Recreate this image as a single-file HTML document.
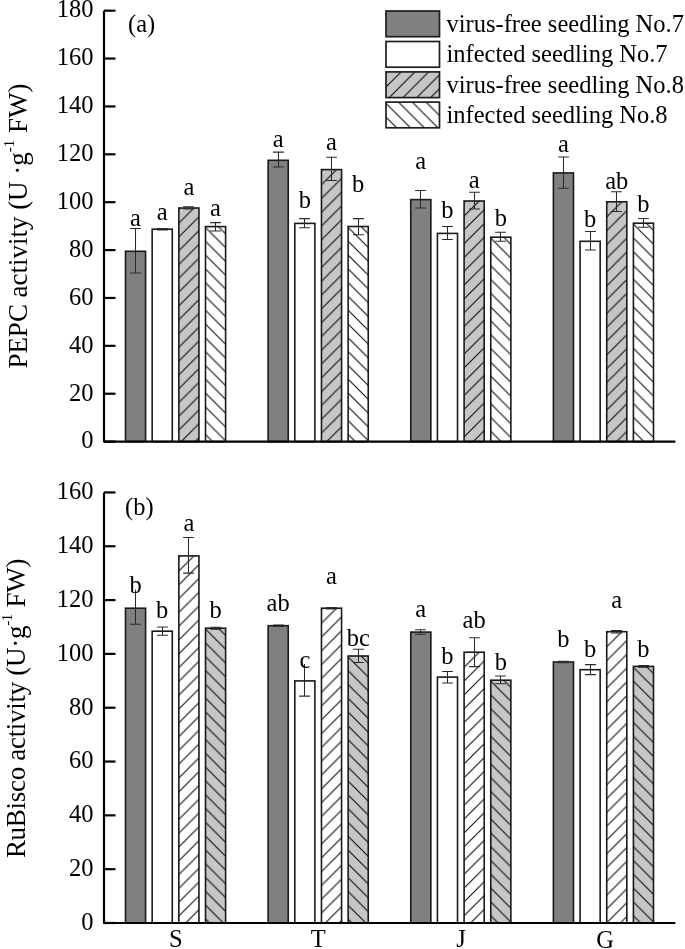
<!DOCTYPE html>
<html><head><meta charset="utf-8"><style>
html,body{margin:0;padding:0;background:#fff;width:685px;height:949px;overflow:hidden}
svg{display:block;will-change:transform}
text{font-family:"Liberation Serif",serif;fill:#000}
</style></head><body>
<svg width="685" height="949" viewBox="0 0 685 949">
<defs>
<pattern id="fw" patternUnits="userSpaceOnUse" width="13.7" height="13.7">
<path d="M-1,1 L1,-1 M0,13.7 L13.7,0 M12.7,14.7 L14.7,12.7" stroke="#1a1a1a" stroke-width="1.2"/>
</pattern>
<pattern id="bk" patternUnits="userSpaceOnUse" width="13.7" height="13.7">
<path d="M-1,12.7 L1,14.7 M0,0 L13.7,13.7 M12.7,-1 L14.7,1" stroke="#1a1a1a" stroke-width="1.2"/>
</pattern>
</defs>
<rect width="685" height="949" fill="#fff"/>

<rect x="125.50" y="251.30" width="20.1" height="190.30" fill="#808080"/>
<rect x="125.50" y="251.30" width="20.1" height="190.30" fill="none" stroke="#1a1a1a" stroke-width="1.6"/>
<path d="M135.50,228.50 V273.00 M130.10,273.00 H140.90 M130.10,228.50 H140.90" stroke="#2a2a2a" stroke-width="1.05" fill="none"/>
<text x="135.55" y="226.00" font-size="24.5" text-anchor="middle">a</text>
<rect x="152.17" y="229.20" width="20.1" height="212.40" fill="#fff"/>
<rect x="152.17" y="229.20" width="20.1" height="212.40" fill="none" stroke="#1a1a1a" stroke-width="1.6"/>
<path d="M162.50,228.40 V230.00 M157.10,230.00 H167.90 M157.10,228.40 H167.90" stroke="#2a2a2a" stroke-width="1.05" fill="none"/>
<text x="162.22" y="219.80" font-size="24.5" text-anchor="middle">a</text>
<rect x="178.84" y="208.00" width="20.1" height="233.60" fill="#c6c6c6"/>
<pattern id="fwA02" patternUnits="userSpaceOnUse" x="178.84" y="209.30" width="13.8" height="13.8"><path d="M-1,1 L1,-1 M0,13.8 L13.8,0 M12.8,14.8 L14.8,12.8" stroke="#000" stroke-width="1.0"/></pattern>
<rect x="178.84" y="208.00" width="20.1" height="233.60" fill="url(#fwA02)"/>
<rect x="178.84" y="208.00" width="20.1" height="233.60" fill="none" stroke="#1a1a1a" stroke-width="1.6"/>
<path d="M188.50,206.80 V208.90 M183.10,208.90 H193.90 M183.10,206.80 H193.90" stroke="#2a2a2a" stroke-width="1.05" fill="none"/>
<text x="188.89" y="195.20" font-size="24.5" text-anchor="middle">a</text>
<rect x="205.51" y="226.60" width="20.1" height="215.00" fill="#fff"/>
<pattern id="bkA03" patternUnits="userSpaceOnUse" x="205.51" y="227.50" width="13.8" height="13.8"><path d="M-1,12.8 L1,14.8 M0,0 L13.8,13.8 M12.8,-1 L14.8,1" stroke="#000" stroke-width="1.0"/></pattern>
<rect x="205.51" y="226.60" width="20.1" height="215.00" fill="url(#bkA03)"/>
<rect x="205.51" y="226.60" width="20.1" height="215.00" fill="none" stroke="#1a1a1a" stroke-width="1.6"/>
<path d="M215.50,222.60 V231.00 M210.10,231.00 H220.90 M210.10,222.60 H220.90" stroke="#2a2a2a" stroke-width="1.05" fill="none"/>
<text x="215.56" y="215.80" font-size="24.5" text-anchor="middle">a</text>
<rect x="268.13" y="160.30" width="20.1" height="281.30" fill="#808080"/>
<rect x="268.13" y="160.30" width="20.1" height="281.30" fill="none" stroke="#1a1a1a" stroke-width="1.6"/>
<path d="M278.50,152.10 V167.00 M273.10,167.00 H283.90 M273.10,152.10 H283.90" stroke="#2a2a2a" stroke-width="1.05" fill="none"/>
<text x="278.18" y="147.00" font-size="24.5" text-anchor="middle">a</text>
<rect x="294.80" y="223.40" width="20.1" height="218.20" fill="#fff"/>
<rect x="294.80" y="223.40" width="20.1" height="218.20" fill="none" stroke="#1a1a1a" stroke-width="1.6"/>
<path d="M304.50,218.60 V227.70 M299.10,227.70 H309.90 M299.10,218.60 H309.90" stroke="#2a2a2a" stroke-width="1.05" fill="none"/>
<text x="304.85" y="208.30" font-size="24.5" text-anchor="middle">b</text>
<rect x="321.47" y="169.60" width="20.1" height="272.00" fill="#c6c6c6"/>
<pattern id="fwA12" patternUnits="userSpaceOnUse" x="321.47" y="170.90" width="13.8" height="13.8"><path d="M-1,1 L1,-1 M0,13.8 L13.8,0 M12.8,14.8 L14.8,12.8" stroke="#000" stroke-width="1.0"/></pattern>
<rect x="321.47" y="169.60" width="20.1" height="272.00" fill="url(#fwA12)"/>
<rect x="321.47" y="169.60" width="20.1" height="272.00" fill="none" stroke="#1a1a1a" stroke-width="1.6"/>
<path d="M331.50,157.30 V180.40 M326.10,180.40 H336.90 M326.10,157.30 H336.90" stroke="#2a2a2a" stroke-width="1.05" fill="none"/>
<text x="331.52" y="149.60" font-size="24.5" text-anchor="middle">a</text>
<rect x="348.14" y="226.50" width="20.1" height="215.10" fill="#fff"/>
<pattern id="bkA13" patternUnits="userSpaceOnUse" x="348.14" y="227.40" width="13.8" height="13.8"><path d="M-1,12.8 L1,14.8 M0,0 L13.8,13.8 M12.8,-1 L14.8,1" stroke="#000" stroke-width="1.0"/></pattern>
<rect x="348.14" y="226.50" width="20.1" height="215.10" fill="url(#bkA13)"/>
<rect x="348.14" y="226.50" width="20.1" height="215.10" fill="none" stroke="#1a1a1a" stroke-width="1.6"/>
<path d="M358.50,218.60 V234.80 M353.10,234.80 H363.90 M353.10,218.60 H363.90" stroke="#2a2a2a" stroke-width="1.05" fill="none"/>
<text x="358.19" y="191.60" font-size="24.5" text-anchor="middle">b</text>
<rect x="410.76" y="199.60" width="20.1" height="242.00" fill="#808080"/>
<rect x="410.76" y="199.60" width="20.1" height="242.00" fill="none" stroke="#1a1a1a" stroke-width="1.6"/>
<path d="M420.50,190.50 V208.00 M415.10,208.00 H425.90 M415.10,190.50 H425.90" stroke="#2a2a2a" stroke-width="1.05" fill="none"/>
<text x="420.81" y="168.70" font-size="24.5" text-anchor="middle">a</text>
<rect x="437.43" y="233.40" width="20.1" height="208.20" fill="#fff"/>
<rect x="437.43" y="233.40" width="20.1" height="208.20" fill="none" stroke="#1a1a1a" stroke-width="1.6"/>
<path d="M447.50,226.40 V239.50 M442.10,239.50 H452.90 M442.10,226.40 H452.90" stroke="#2a2a2a" stroke-width="1.05" fill="none"/>
<text x="447.48" y="217.80" font-size="24.5" text-anchor="middle">b</text>
<rect x="464.10" y="201.00" width="20.1" height="240.60" fill="#c6c6c6"/>
<pattern id="fwA22" patternUnits="userSpaceOnUse" x="464.10" y="202.30" width="13.8" height="13.8"><path d="M-1,1 L1,-1 M0,13.8 L13.8,0 M12.8,14.8 L14.8,12.8" stroke="#000" stroke-width="1.0"/></pattern>
<rect x="464.10" y="201.00" width="20.1" height="240.60" fill="url(#fwA22)"/>
<rect x="464.10" y="201.00" width="20.1" height="240.60" fill="none" stroke="#1a1a1a" stroke-width="1.6"/>
<path d="M474.50,192.20 V208.90 M469.10,208.90 H479.90 M469.10,192.20 H479.90" stroke="#2a2a2a" stroke-width="1.05" fill="none"/>
<text x="474.15" y="188.00" font-size="24.5" text-anchor="middle">a</text>
<rect x="490.77" y="237.20" width="20.1" height="204.40" fill="#fff"/>
<pattern id="bkA23" patternUnits="userSpaceOnUse" x="490.77" y="238.10" width="13.8" height="13.8"><path d="M-1,12.8 L1,14.8 M0,0 L13.8,13.8 M12.8,-1 L14.8,1" stroke="#000" stroke-width="1.0"/></pattern>
<rect x="490.77" y="237.20" width="20.1" height="204.40" fill="url(#bkA23)"/>
<rect x="490.77" y="237.20" width="20.1" height="204.40" fill="none" stroke="#1a1a1a" stroke-width="1.6"/>
<path d="M500.50,232.30 V241.30 M495.10,241.30 H505.90 M495.10,232.30 H505.90" stroke="#2a2a2a" stroke-width="1.05" fill="none"/>
<text x="500.82" y="225.60" font-size="24.5" text-anchor="middle">b</text>
<rect x="553.39" y="172.90" width="20.1" height="268.70" fill="#808080"/>
<rect x="553.39" y="172.90" width="20.1" height="268.70" fill="none" stroke="#1a1a1a" stroke-width="1.6"/>
<path d="M563.50,157.00 V188.20 M558.10,188.20 H568.90 M558.10,157.00 H568.90" stroke="#2a2a2a" stroke-width="1.05" fill="none"/>
<text x="563.44" y="152.10" font-size="24.5" text-anchor="middle">a</text>
<rect x="580.06" y="241.30" width="20.1" height="200.30" fill="#fff"/>
<rect x="580.06" y="241.30" width="20.1" height="200.30" fill="none" stroke="#1a1a1a" stroke-width="1.6"/>
<path d="M590.50,231.50 V250.00 M585.10,250.00 H595.90 M585.10,231.50 H595.90" stroke="#2a2a2a" stroke-width="1.05" fill="none"/>
<text x="590.11" y="226.50" font-size="24.5" text-anchor="middle">b</text>
<rect x="606.73" y="201.80" width="20.1" height="239.80" fill="#c6c6c6"/>
<pattern id="fwA32" patternUnits="userSpaceOnUse" x="606.73" y="203.10" width="13.8" height="13.8"><path d="M-1,1 L1,-1 M0,13.8 L13.8,0 M12.8,14.8 L14.8,12.8" stroke="#000" stroke-width="1.0"/></pattern>
<rect x="606.73" y="201.80" width="20.1" height="239.80" fill="url(#fwA32)"/>
<rect x="606.73" y="201.80" width="20.1" height="239.80" fill="none" stroke="#1a1a1a" stroke-width="1.6"/>
<path d="M616.50,191.70 V211.50 M611.10,211.50 H621.90 M611.10,191.70 H621.90" stroke="#2a2a2a" stroke-width="1.05" fill="none"/>
<text x="616.78" y="188.80" font-size="24.5" text-anchor="middle">ab</text>
<rect x="633.40" y="223.20" width="20.1" height="218.40" fill="#fff"/>
<pattern id="bkA33" patternUnits="userSpaceOnUse" x="633.40" y="224.10" width="13.8" height="13.8"><path d="M-1,12.8 L1,14.8 M0,0 L13.8,13.8 M12.8,-1 L14.8,1" stroke="#000" stroke-width="1.0"/></pattern>
<rect x="633.40" y="223.20" width="20.1" height="218.40" fill="url(#bkA33)"/>
<rect x="633.40" y="223.20" width="20.1" height="218.40" fill="none" stroke="#1a1a1a" stroke-width="1.6"/>
<path d="M643.50,218.50 V227.20 M638.10,227.20 H648.90 M638.10,218.50 H648.90" stroke="#2a2a2a" stroke-width="1.05" fill="none"/>
<text x="643.45" y="211.60" font-size="24.5" text-anchor="middle">b</text>
<path d="M104,10.68 V441.60 H675.4" stroke="#000" stroke-width="2.2" fill="none" stroke-linejoin="round"/>
<path d="M104,441.60 H115.5" stroke="#000" stroke-width="2.2"/>
<text x="93.5" y="448.40" font-size="24.5" text-anchor="end">0</text>
<path d="M104,393.72 H115.5" stroke="#000" stroke-width="2.2"/>
<text x="93.5" y="400.52" font-size="24.5" text-anchor="end">20</text>
<path d="M104,345.84 H115.5" stroke="#000" stroke-width="2.2"/>
<text x="93.5" y="352.64" font-size="24.5" text-anchor="end">40</text>
<path d="M104,297.96 H115.5" stroke="#000" stroke-width="2.2"/>
<text x="93.5" y="304.76" font-size="24.5" text-anchor="end">60</text>
<path d="M104,250.08 H115.5" stroke="#000" stroke-width="2.2"/>
<text x="93.5" y="256.88" font-size="24.5" text-anchor="end">80</text>
<path d="M104,202.20 H115.5" stroke="#000" stroke-width="2.2"/>
<text x="93.5" y="209.00" font-size="24.5" text-anchor="end">100</text>
<path d="M104,154.32 H115.5" stroke="#000" stroke-width="2.2"/>
<text x="93.5" y="161.12" font-size="24.5" text-anchor="end">120</text>
<path d="M104,106.44 H115.5" stroke="#000" stroke-width="2.2"/>
<text x="93.5" y="113.24" font-size="24.5" text-anchor="end">140</text>
<path d="M104,58.56 H115.5" stroke="#000" stroke-width="2.2"/>
<text x="93.5" y="65.36" font-size="24.5" text-anchor="end">160</text>
<path d="M104,10.68 H115.5" stroke="#000" stroke-width="2.2"/>
<text x="93.5" y="17.48" font-size="24.5" text-anchor="end">180</text>
<rect x="125.50" y="608.20" width="20.1" height="314.80" fill="#808080"/>
<rect x="125.50" y="608.20" width="20.1" height="314.80" fill="none" stroke="#1a1a1a" stroke-width="1.6"/>
<path d="M135.50,589.50 V624.30 M130.10,624.30 H140.90" stroke="#2a2a2a" stroke-width="1.05" fill="none"/>
<text x="135.55" y="593.20" font-size="24.5" text-anchor="middle">b</text>
<rect x="152.17" y="631.20" width="20.1" height="291.80" fill="#fff"/>
<rect x="152.17" y="631.20" width="20.1" height="291.80" fill="none" stroke="#1a1a1a" stroke-width="1.6"/>
<path d="M162.50,627.00 V635.20 M157.10,635.20 H167.90 M157.10,627.00 H167.90" stroke="#2a2a2a" stroke-width="1.05" fill="none"/>
<text x="162.22" y="618.00" font-size="24.5" text-anchor="middle">b</text>
<rect x="178.84" y="555.90" width="20.1" height="367.10" fill="#fff"/>
<pattern id="fwB02" patternUnits="userSpaceOnUse" x="178.84" y="557.20" width="13.8" height="13.8"><path d="M-1,1 L1,-1 M0,13.8 L13.8,0 M12.8,14.8 L14.8,12.8" stroke="#000" stroke-width="1.0"/></pattern>
<rect x="178.84" y="555.90" width="20.1" height="367.10" fill="url(#fwB02)"/>
<rect x="178.84" y="555.90" width="20.1" height="367.10" fill="none" stroke="#1a1a1a" stroke-width="1.6"/>
<path d="M188.50,537.50 V573.10 M183.10,573.10 H193.90 M183.10,537.50 H193.90" stroke="#2a2a2a" stroke-width="1.05" fill="none"/>
<text x="188.89" y="531.20" font-size="24.5" text-anchor="middle">a</text>
<rect x="205.51" y="628.20" width="20.1" height="294.80" fill="#c6c6c6"/>
<pattern id="bkB03" patternUnits="userSpaceOnUse" x="205.51" y="629.10" width="13.8" height="13.8"><path d="M-1,12.8 L1,14.8 M0,0 L13.8,13.8 M12.8,-1 L14.8,1" stroke="#000" stroke-width="1.0"/></pattern>
<rect x="205.51" y="628.20" width="20.1" height="294.80" fill="url(#bkB03)"/>
<rect x="205.51" y="628.20" width="20.1" height="294.80" fill="none" stroke="#1a1a1a" stroke-width="1.6"/>
<path d="M215.50,627.30 V629.20 M210.10,629.20 H220.90 M210.10,627.30 H220.90" stroke="#2a2a2a" stroke-width="1.05" fill="none"/>
<text x="215.56" y="618.00" font-size="24.5" text-anchor="middle">b</text>
<rect x="268.13" y="625.70" width="20.1" height="297.30" fill="#808080"/>
<rect x="268.13" y="625.70" width="20.1" height="297.30" fill="none" stroke="#1a1a1a" stroke-width="1.6"/>
<path d="M278.50,625.00 V626.40 M273.10,626.40 H283.90 M273.10,625.00 H283.90" stroke="#2a2a2a" stroke-width="1.05" fill="none"/>
<text x="278.18" y="611.00" font-size="24.5" text-anchor="middle">ab</text>
<rect x="294.80" y="680.90" width="20.1" height="242.10" fill="#fff"/>
<rect x="294.80" y="680.90" width="20.1" height="242.10" fill="none" stroke="#1a1a1a" stroke-width="1.6"/>
<path d="M304.50,664.00 V696.10 M299.10,696.10 H309.90" stroke="#2a2a2a" stroke-width="1.05" fill="none"/>
<text x="304.85" y="667.60" font-size="24.5" text-anchor="middle">c</text>
<rect x="321.47" y="608.20" width="20.1" height="314.80" fill="#fff"/>
<pattern id="fwB12" patternUnits="userSpaceOnUse" x="321.47" y="609.50" width="13.8" height="13.8"><path d="M-1,1 L1,-1 M0,13.8 L13.8,0 M12.8,14.8 L14.8,12.8" stroke="#000" stroke-width="1.0"/></pattern>
<rect x="321.47" y="608.20" width="20.1" height="314.80" fill="url(#fwB12)"/>
<rect x="321.47" y="608.20" width="20.1" height="314.80" fill="none" stroke="#1a1a1a" stroke-width="1.6"/>
<path d="M331.50,607.50 V608.90 M326.10,608.90 H336.90 M326.10,607.50 H336.90" stroke="#2a2a2a" stroke-width="1.05" fill="none"/>
<text x="331.52" y="584.30" font-size="24.5" text-anchor="middle">a</text>
<rect x="348.14" y="656.00" width="20.1" height="267.00" fill="#c6c6c6"/>
<pattern id="bkB13" patternUnits="userSpaceOnUse" x="348.14" y="656.90" width="13.8" height="13.8"><path d="M-1,12.8 L1,14.8 M0,0 L13.8,13.8 M12.8,-1 L14.8,1" stroke="#000" stroke-width="1.0"/></pattern>
<rect x="348.14" y="656.00" width="20.1" height="267.00" fill="url(#bkB13)"/>
<rect x="348.14" y="656.00" width="20.1" height="267.00" fill="none" stroke="#1a1a1a" stroke-width="1.6"/>
<path d="M358.50,649.30 V662.50 M353.10,662.50 H363.90 M353.10,649.30 H363.90" stroke="#2a2a2a" stroke-width="1.05" fill="none"/>
<text x="358.19" y="645.60" font-size="24.5" text-anchor="middle">bc</text>
<rect x="410.76" y="632.10" width="20.1" height="290.90" fill="#808080"/>
<rect x="410.76" y="632.10" width="20.1" height="290.90" fill="none" stroke="#1a1a1a" stroke-width="1.6"/>
<path d="M420.50,629.80 V634.20 M415.10,634.20 H425.90 M415.10,629.80 H425.90" stroke="#2a2a2a" stroke-width="1.05" fill="none"/>
<text x="420.81" y="617.30" font-size="24.5" text-anchor="middle">a</text>
<rect x="437.43" y="677.10" width="20.1" height="245.90" fill="#fff"/>
<rect x="437.43" y="677.10" width="20.1" height="245.90" fill="none" stroke="#1a1a1a" stroke-width="1.6"/>
<path d="M447.50,671.50 V682.90 M442.10,682.90 H452.90 M442.10,671.50 H452.90" stroke="#2a2a2a" stroke-width="1.05" fill="none"/>
<text x="447.48" y="663.80" font-size="24.5" text-anchor="middle">b</text>
<rect x="464.10" y="652.20" width="20.1" height="270.80" fill="#fff"/>
<pattern id="fwB22" patternUnits="userSpaceOnUse" x="464.10" y="653.50" width="13.8" height="13.8"><path d="M-1,1 L1,-1 M0,13.8 L13.8,0 M12.8,14.8 L14.8,12.8" stroke="#000" stroke-width="1.0"/></pattern>
<rect x="464.10" y="652.20" width="20.1" height="270.80" fill="url(#fwB22)"/>
<rect x="464.10" y="652.20" width="20.1" height="270.80" fill="none" stroke="#1a1a1a" stroke-width="1.6"/>
<path d="M474.50,637.70 V666.60 M469.10,666.60 H479.90 M469.10,637.70 H479.90" stroke="#2a2a2a" stroke-width="1.05" fill="none"/>
<text x="474.15" y="627.80" font-size="24.5" text-anchor="middle">ab</text>
<rect x="490.77" y="680.20" width="20.1" height="242.80" fill="#c6c6c6"/>
<pattern id="bkB23" patternUnits="userSpaceOnUse" x="490.77" y="681.10" width="13.8" height="13.8"><path d="M-1,12.8 L1,14.8 M0,0 L13.8,13.8 M12.8,-1 L14.8,1" stroke="#000" stroke-width="1.0"/></pattern>
<rect x="490.77" y="680.20" width="20.1" height="242.80" fill="url(#bkB23)"/>
<rect x="490.77" y="680.20" width="20.1" height="242.80" fill="none" stroke="#1a1a1a" stroke-width="1.6"/>
<path d="M500.50,675.90 V683.70 M495.10,683.70 H505.90 M495.10,675.90 H505.90" stroke="#2a2a2a" stroke-width="1.05" fill="none"/>
<text x="500.82" y="669.90" font-size="24.5" text-anchor="middle">b</text>
<rect x="553.39" y="662.00" width="20.1" height="261.00" fill="#808080"/>
<rect x="553.39" y="662.00" width="20.1" height="261.00" fill="none" stroke="#1a1a1a" stroke-width="1.6"/>
<path d="M563.50,661.20 V662.80 M558.10,662.80 H568.90 M558.10,661.20 H568.90" stroke="#2a2a2a" stroke-width="1.05" fill="none"/>
<text x="563.44" y="647.20" font-size="24.5" text-anchor="middle">b</text>
<rect x="580.06" y="669.70" width="20.1" height="253.30" fill="#fff"/>
<rect x="580.06" y="669.70" width="20.1" height="253.30" fill="none" stroke="#1a1a1a" stroke-width="1.6"/>
<path d="M590.50,664.60 V674.60 M585.10,674.60 H595.90 M585.10,664.60 H595.90" stroke="#2a2a2a" stroke-width="1.05" fill="none"/>
<text x="590.11" y="656.50" font-size="24.5" text-anchor="middle">b</text>
<rect x="606.73" y="631.70" width="20.1" height="291.30" fill="#fff"/>
<pattern id="fwB32" patternUnits="userSpaceOnUse" x="606.73" y="633.00" width="13.8" height="13.8"><path d="M-1,1 L1,-1 M0,13.8 L13.8,0 M12.8,14.8 L14.8,12.8" stroke="#000" stroke-width="1.0"/></pattern>
<rect x="606.73" y="631.70" width="20.1" height="291.30" fill="url(#fwB32)"/>
<rect x="606.73" y="631.70" width="20.1" height="291.30" fill="none" stroke="#1a1a1a" stroke-width="1.6"/>
<path d="M616.50,630.50 V632.90 M611.10,632.90 H621.90 M611.10,630.50 H621.90" stroke="#2a2a2a" stroke-width="1.05" fill="none"/>
<text x="616.78" y="607.50" font-size="24.5" text-anchor="middle">a</text>
<rect x="633.40" y="666.40" width="20.1" height="256.60" fill="#c6c6c6"/>
<pattern id="bkB33" patternUnits="userSpaceOnUse" x="633.40" y="667.30" width="13.8" height="13.8"><path d="M-1,12.8 L1,14.8 M0,0 L13.8,13.8 M12.8,-1 L14.8,1" stroke="#000" stroke-width="1.0"/></pattern>
<rect x="633.40" y="666.40" width="20.1" height="256.60" fill="url(#bkB33)"/>
<rect x="633.40" y="666.40" width="20.1" height="256.60" fill="none" stroke="#1a1a1a" stroke-width="1.6"/>
<path d="M643.50,665.50 V667.30 M638.10,667.30 H648.90 M638.10,665.50 H648.90" stroke="#2a2a2a" stroke-width="1.05" fill="none"/>
<text x="643.45" y="656.90" font-size="24.5" text-anchor="middle">b</text>
<path d="M104,492.44 V923.00 H675.4" stroke="#000" stroke-width="2.2" fill="none" stroke-linejoin="round"/>
<path d="M104,923.00 H115.5" stroke="#000" stroke-width="2.2"/>
<text x="93.5" y="929.80" font-size="24.5" text-anchor="end">0</text>
<path d="M104,869.18 H115.5" stroke="#000" stroke-width="2.2"/>
<text x="93.5" y="875.98" font-size="24.5" text-anchor="end">20</text>
<path d="M104,815.36 H115.5" stroke="#000" stroke-width="2.2"/>
<text x="93.5" y="822.16" font-size="24.5" text-anchor="end">40</text>
<path d="M104,761.54 H115.5" stroke="#000" stroke-width="2.2"/>
<text x="93.5" y="768.34" font-size="24.5" text-anchor="end">60</text>
<path d="M104,707.72 H115.5" stroke="#000" stroke-width="2.2"/>
<text x="93.5" y="714.52" font-size="24.5" text-anchor="end">80</text>
<path d="M104,653.90 H115.5" stroke="#000" stroke-width="2.2"/>
<text x="93.5" y="660.70" font-size="24.5" text-anchor="end">100</text>
<path d="M104,600.08 H115.5" stroke="#000" stroke-width="2.2"/>
<text x="93.5" y="606.88" font-size="24.5" text-anchor="end">120</text>
<path d="M104,546.26 H115.5" stroke="#000" stroke-width="2.2"/>
<text x="93.5" y="553.06" font-size="24.5" text-anchor="end">140</text>
<path d="M104,492.44 H115.5" stroke="#000" stroke-width="2.2"/>
<text x="93.5" y="499.24" font-size="24.5" text-anchor="end">160</text>
<text x="128" y="31.6" font-size="24.5">(a)</text>
<text x="125" y="514.5" font-size="24.5">(b)</text>
<text x="175.70" y="947" font-size="24.5" text-anchor="middle">S</text>
<text x="318.33" y="947" font-size="24.5" text-anchor="middle">T</text>
<text x="460.96" y="947" font-size="24.5" text-anchor="middle">J</text>
<text x="605.19" y="947.5" font-size="24.5" text-anchor="middle">G</text>
<text transform="translate(27,368.6) rotate(-90)" x="0" y="0" font-size="27" textLength="285" lengthAdjust="spacing">PEPC activity (U ·g<tspan font-size="15" dy="-13.2">-1</tspan><tspan dy="13.2"> FW)</tspan></text>
<text transform="translate(25.3,858.1) rotate(-90)" x="0" y="0" font-size="27" textLength="299.5" lengthAdjust="spacing">RuBisco activity (U·g<tspan font-size="15" dy="-13.2">-1</tspan><tspan dy="13.2"> FW)</tspan></text>
<rect x="386.0" y="11.00" width="53.5" height="25.7" fill="#808080"/>
<rect x="386.0" y="11.00" width="53.5" height="25.7" fill="none" stroke="#1e1e1e" stroke-width="1.7"/>
<text x="446.5" y="32.00" font-size="24.5">virus-free seedling No.7</text>
<rect x="386.0" y="41.50" width="53.5" height="25.7" fill="#fff"/>
<rect x="386.0" y="41.50" width="53.5" height="25.7" fill="none" stroke="#1e1e1e" stroke-width="1.7"/>
<text x="446.5" y="62.30" font-size="24.5">infected seedling No.7</text>
<rect x="386.0" y="71.90" width="53.5" height="25.7" fill="#c6c6c6"/>
<pattern id="Lfw" patternUnits="userSpaceOnUse" x="386.00" y="73.20" width="13.8" height="13.8"><path d="M-1,1 L1,-1 M0,13.8 L13.8,0 M12.8,14.8 L14.8,12.8" stroke="#000" stroke-width="1.0"/></pattern>
<rect x="386.0" y="71.90" width="53.5" height="25.7" fill="url(#Lfw)"/>
<rect x="386.0" y="71.90" width="53.5" height="25.7" fill="none" stroke="#1e1e1e" stroke-width="1.7"/>
<text x="446.5" y="92.60" font-size="24.5">virus-free seedling No.8</text>
<rect x="386.0" y="102.10" width="53.5" height="25.7" fill="#fff"/>
<pattern id="Lbk" patternUnits="userSpaceOnUse" x="386.00" y="103.40" width="13.8" height="13.8"><path d="M-1,12.8 L1,14.8 M0,0 L13.8,13.8 M12.8,-1 L14.8,1" stroke="#000" stroke-width="1.0"/></pattern>
<rect x="386.0" y="102.10" width="53.5" height="25.7" fill="url(#Lbk)"/>
<rect x="386.0" y="102.10" width="53.5" height="25.7" fill="none" stroke="#1e1e1e" stroke-width="1.7"/>
<text x="446.5" y="122.90" font-size="24.5">infected seedling No.8</text>
</svg></body></html>
